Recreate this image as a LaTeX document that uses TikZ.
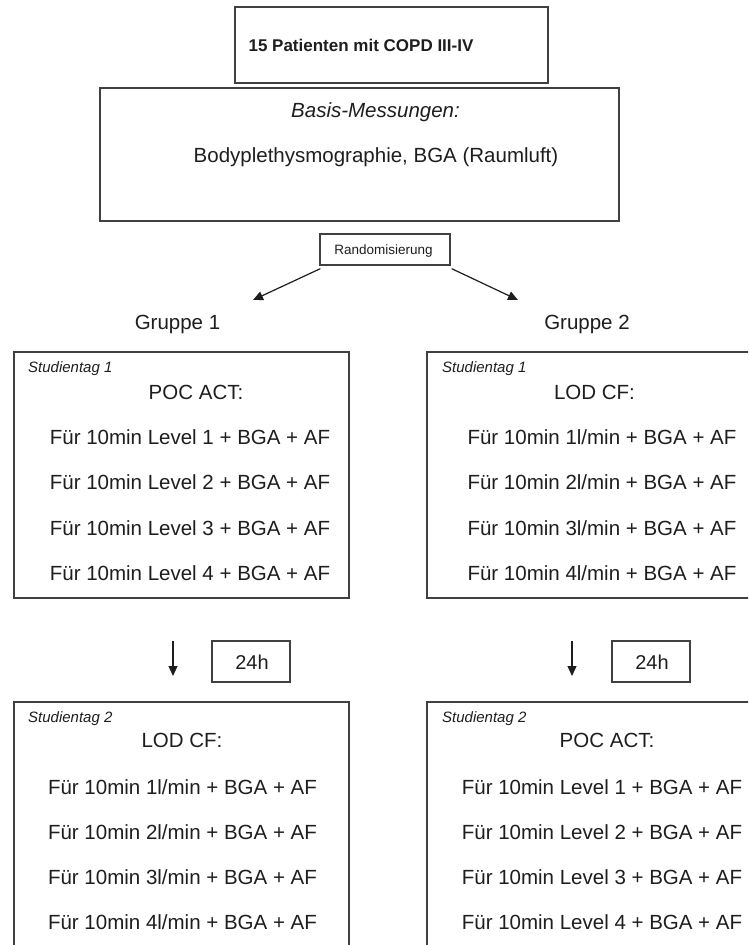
\documentclass[tikz,border=0pt]{standalone}
\usepackage{fontspec}
\setmainfont{Liberation Sans}
\usetikzlibrary{arrows.meta}
\definecolor{linec}{HTML}{404040}
\definecolor{txtc}{HTML}{1E1E1E}
\tikzset{
  frame/.style={draw=linec, line width=1.3pt, fill=none, inner sep=0pt},
  txt/.style={inner sep=0pt, text=txtc, font=\fontsize{20.5}{24}\selectfont, text height=14.7pt, text depth=0pt},
  small/.style={inner sep=0pt, text=txtc, font=\fontsize{15}{18}\selectfont\itshape, text height=10.8pt, text depth=0pt, anchor=west},
  arr/.style={draw=txtc, line width=1.2pt, -{Triangle[length=10pt,width=9pt]}},
}
\begin{document}
\begin{tikzpicture}[x=1pt,y=-1pt]
\useasboundingbox[fill=white] (0,0) rectangle (748,945);
\clip (0,0) rectangle (748,945);
% top boxes
\node[frame, minimum width=313pt, minimum height=76pt] (top) at (391.5,45) {};
\node[txt, font=\fontsize{17}{20}\bfseries, text height=12.2pt] (toptxt) at (361,45) {15 Patienten mit COPD III-IV};
\node[frame, minimum width=519pt, minimum height=133pt] (basis) at (359.5,154.5) {};
\node[txt, font=\fontsize{20.5}{24}\selectfont\itshape] (basis1) at (375.5,110) {Basis-Messungen:};
\node[txt] (basis2) at (376,155) {Bodyplethysmographie, BGA (Raumluft)};
% randomisation
\node[frame, minimum width=130pt, minimum height=31pt] (rand) at (385,249.5) {};
\node[txt, font=\fontsize{13.5}{16}\selectfont, text height=9.7pt] (randtxt) at (383.5,250) {Randomisierung};
\coordinate (tipL) at (253,300);
\coordinate (tipR) at (518,300);
\draw[arr] (rand.south west) ++(1,3) coordinate (sL) -- (tipL);
\draw[arr] (rand.south east) ++(1,3) coordinate (sR) -- (tipR);
\node[txt] (grp1) at (177.5,322) {Gruppe 1};
\node[txt] (grp2) at (587,322) {Gruppe 2};
% day 1 boxes
\node[frame, minimum width=335pt, minimum height=246pt] (L1) at (181.5,475) {};
\node[frame, minimum width=373pt, minimum height=246pt] (R1) at (613.5,475) {};
\node[small] (L1s) at (28,367) {Studientag 1};
\node[txt] (L1h) at (196,392) {POC ACT:};
\node[txt] (L1a) at (190,437) {Für 10min Level 1 + BGA + AF};
\node[txt] (L1b) at (190,482) {Für 10min Level 2 + BGA + AF};
\node[txt] (L1c) at (190,528) {Für 10min Level 3 + BGA + AF};
\node[txt] (L1d) at (190,573) {Für 10min Level 4 + BGA + AF};
\node[small] (R1s) at (442,367) {Studientag 1};
\node[txt] (R1h) at (594.5,392) {LOD CF:};
\node[txt] (R1a) at (602,437) {Für 10min 1l/min + BGA + AF};
\node[txt] (R1b) at (602,482) {Für 10min 2l/min + BGA + AF};
\node[txt] (R1c) at (602,528) {Für 10min 3l/min + BGA + AF};
\node[txt] (R1d) at (602,573) {Für 10min 4l/min + BGA + AF};
% 24h
\coordinate (dLs) at (173,641);
\coordinate (dLe) at (173,676);
\coordinate (dRs) at (572,641);
\coordinate (dRe) at (572,676);
\draw[arr] (dLs) -- (dLe);
\draw[arr] (dRs) -- (dRe);
\node[frame, minimum width=78pt, minimum height=41pt] (hL) at (251,661.5) {};
\node[txt, font=\fontsize{20}{24}\selectfont, text height=14.4pt] (hLt) at (252,662) {24h};
\node[frame, minimum width=78pt, minimum height=41pt] (hR) at (651,661.5) {};
\node[txt, font=\fontsize{20}{24}\selectfont, text height=14.4pt] (hRt) at (652,662) {24h};
% day 2 boxes
\node[frame, minimum width=335pt, minimum height=300pt] (L2) at (181.5,852) {};
\node[frame, minimum width=373pt, minimum height=300pt] (R2) at (613.5,852) {};
\node[small] (L2s) at (28,717) {Studientag 2};
\node[txt] (L2h) at (182,740) {LOD CF:};
\node[txt] (L2a) at (182.5,787) {Für 10min 1l/min + BGA + AF};
\node[txt] (L2b) at (182.5,832) {Für 10min 2l/min + BGA + AF};
\node[txt] (L2c) at (182.5,877) {Für 10min 3l/min + BGA + AF};
\node[txt] (L2d) at (182.5,922) {Für 10min 4l/min + BGA + AF};
\node[small] (R2s) at (442,717) {Studientag 2};
\node[txt] (R2h) at (607,740) {POC ACT:};
\node[txt] (R2a) at (602,787) {Für 10min Level 1 + BGA + AF};
\node[txt] (R2b) at (602,832) {Für 10min Level 2 + BGA + AF};
\node[txt] (R2c) at (602,877) {Für 10min Level 3 + BGA + AF};
\node[txt] (R2d) at (602,922) {Für 10min Level 4 + BGA + AF};
\end{tikzpicture}
\end{document}
